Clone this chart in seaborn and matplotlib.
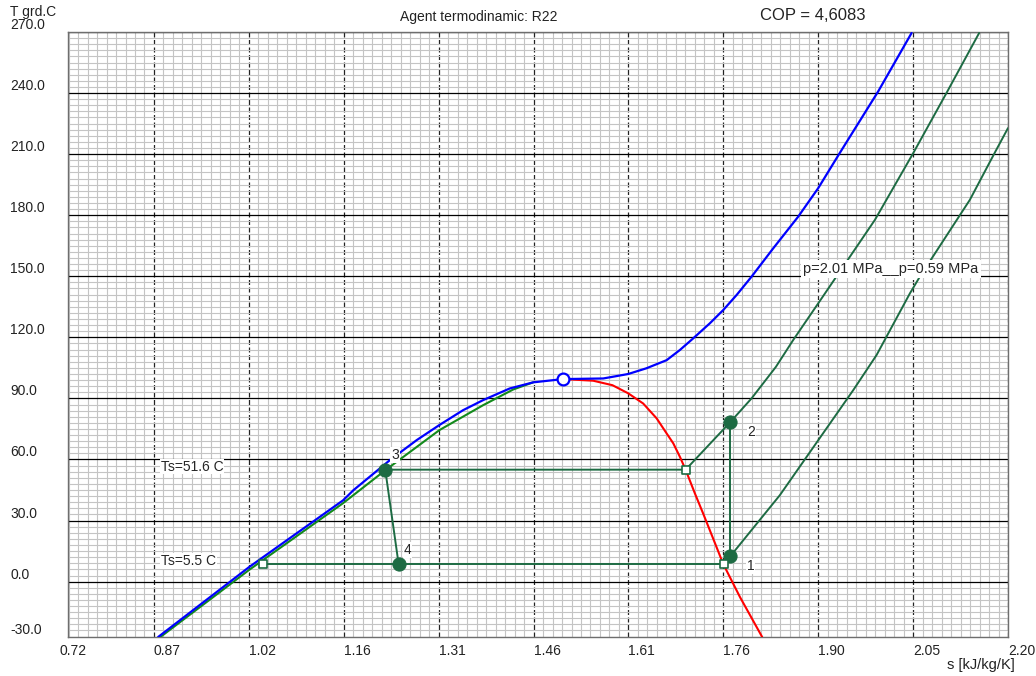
import numpy as np
import pandas as pd
import matplotlib
matplotlib.use("Agg")
import matplotlib.pyplot as plt
import seaborn as sns

# saturated liquid line (blue, left branch) s [kJ/kg/K], T [C]
liq_s = [0.8745, 1.0166, 1.1632, 1.179, 1.236, 1.2777, 1.313, 1.350, 1.3816, 1.423, 1.4595, 1.5063]
liq_T = [-27.2, 7.2, 40.0, 44.9, 59.7, 69.5, 76.9, 84.2, 89.2, 94.9, 97.9, 99.5]

# green line just under the liquid line
grn_s = [0.878, 1.0166, 1.1632, 1.2287, 1.257, 1.313, 1.3815, 1.4284, 1.4595]
grn_T = [-27.2, 5.8, 38.6, 54.7, 61.3, 74.4, 86.7, 94.4, 97.9]

# critical isobar (blue, right branch)
crit_s = [1.5063, 1.5687, 1.6077, 1.636, 1.6676, 1.6883, 1.709, 1.735, 1.7558,
          1.7767, 1.800, 1.834, 1.8728, 1.904, 1.9367, 1.9975, 2.0496]
crit_T = [99.5, 99.8, 102.0, 104.8, 108.8, 113.8, 119.5, 126.9, 133.4,
          140.8, 149.8, 163.8, 179.3, 193.3, 210.1, 240.8, 269.5]

# saturated vapour line (red)
vap_s = [1.5063, 1.553, 1.583, 1.6077, 1.631, 1.652, 1.6676, 1.678, 1.6883, 1.697,
         1.7117, 1.7246, 1.7402, 1.7558, 1.782, 1.8166]
vap_T = [99.5, 98.7, 96.5, 92.5, 87.5, 80.2, 72.8, 67.9, 61.3, 55.1,
         43.3, 33.4, 21.1, 8.7, -7.6, -27.2]

# isobars p=2.01 MPa and p=0.59 MPa
hp_s = [1.6972, 1.7667, 1.800, 1.838, 1.865, 1.904, 1.9534, 1.9924, 2.052, 2.104, 2.155]
hp_T = [55.0, 78.3, 90.0, 105.5, 118.7, 136.7, 159.6, 177.7, 210.4, 240.0, 269.5]
lp_s = [1.7564, 1.7667, 1.844, 1.9587, 1.995, 2.047, 2.0625, 2.1406, 2.179, 2.2]
lp_T = [8.5, 12.4, 42.4, 94.1, 111.3, 141.6, 149.8, 187.6, 210.5, 222.8]

# cycle states 1..4 and saturation points
pt_labels = ["1", "2", "3", "4"]
pt_s = [1.7667, 1.7667, 1.2287, 1.2496]
pt_T = [12.4, 78.3, 55.0, 8.5]
sat_s = [1.0375, 1.7564, 1.6972]
sat_T = [8.5, 8.5, 55.0]
crit_pt = (1.5063, 99.5)

x_ticks = [0.72, 0.87, 1.02, 1.16, 1.31, 1.46, 1.61, 1.76, 1.90, 2.05, 2.20]
y_ticks = [-30, 0, 30, 60, 90, 120, 150, 180, 210, 240, 270]

sns.set_theme(style="white")
plt.rcParams["font.family"] = ["Liberation Sans", "DejaVu Sans"]

fig = plt.figure(figsize=(10.36, 6.76), dpi=100)
ax = fig.add_axes([68 / 1036, 39 / 676, 940 / 1036, 605 / 676])

x0, dx = 0.72, 0.148
xlim = (0.7339, 2.20)
ylim = (-27.2, 270)
ax.set_xticks([x0 + dx * k for k in range(11)])
ax.set_xticks([x0 + dx / 10 * k for k in range(101)], minor=True)
ax.set_yticks(y_ticks)
ax.set_yticks(np.arange(-30, 271, 3), minor=True)
ax.tick_params(which="both", length=0, labelbottom=False, labelleft=False)
ax.grid(which="minor", color="#c4c4c4", lw=0.8)
ax.xaxis.grid(which="major", color="#222222", lw=0.9, ls=(0, (4, 2)))
ax.yaxis.grid(which="major", color="black", lw=0.9, ls="-")
ax.set_axisbelow(True)
for sp in ax.spines.values():
    sp.set_color("#6e6e6e")
    sp.set_linewidth(1.0)

green = "#1d6b43"
lgreen = "#138a1c"

def curve(xs, ys, color, lw):
    df = pd.DataFrame({"s": xs, "T": ys})
    sns.lineplot(data=df, x="s", y="T", color=color, lw=lw, sort=False,
                 estimator=None, ax=ax, zorder=3)

curve(grn_s, grn_T, lgreen, 1.5)
curve(liq_s, liq_T, "blue", 1.6)
curve(vap_s, vap_T, "red", 1.5)
curve(crit_s, crit_T, "blue", 1.6)
curve(hp_s, hp_T, green, 1.4)
curve(lp_s, lp_T, green, 1.4)

# cycle lines
curve([sat_s[0], sat_s[1]], [sat_T[0], sat_T[1]], green, 1.4)
curve([pt_s[0], pt_s[1]], [pt_T[0], pt_T[1]], green, 1.4)
curve([sat_s[2], pt_s[2], pt_s[3]], [sat_T[2], pt_T[2], pt_T[3]], green, 1.4)

sns.scatterplot(x=pt_s, y=pt_T, color=green, s=90, edgecolor=green, ax=ax, zorder=5)
sns.scatterplot(x=sat_s, y=sat_T, marker="s", s=34, color="white",
                edgecolor=green, linewidth=1.2, ax=ax, zorder=5)
ax.plot(*crit_pt, "o", ms=8.5, mfc="white", mec="blue", mew=1.6, zorder=6)
ax.set_xlabel("")
ax.set_ylabel("")
ax.set_xlim(*xlim)
ax.set_ylim(*ylim)

box = dict(facecolor="white", edgecolor="none", pad=0.6)
lab_pos = [(1.7985, 7.5), (1.8001, 73.6), (1.2438, 62.1), (1.263, 15.7)]
for t, (sx, ty) in zip(pt_labels, lab_pos):
    ax.text(sx, ty, t, fontsize=10, ha="center", va="center", bbox=box, zorder=7)
ax.text(0.8789, 56.5, "Ts=51.6 C", fontsize=10, ha="left", va="center", bbox=box, zorder=7)
ax.text(0.8789, 10.0, "Ts=5.5 C", fontsize=10, ha="left", va="center", bbox=box, zorder=7)
ax.text(2.0173, 153.6, "p=2.01 MPa__p=0.59 MPa", fontsize=10.5, ha="center", va="center",
        bbox=dict(facecolor="white", edgecolor="none", pad=1.5), zorder=7)

# tick labels
for v, lab in zip([x0 + dx * k for k in range(11)], x_ticks):
    ax.text(v, -7 / 605, f"{lab:.2f}", transform=ax.get_xaxis_transform(),
            ha="left", va="top", fontsize=10, color="#222222", clip_on=False)
for v in y_ticks:
    ax.text(-58 / 940, max(v, ylim[0]), f"{v:.1f}", transform=ax.get_yaxis_transform(),
            ha="left", va="bottom", fontsize=10, color="#222222", clip_on=False)

fig.text(10 / 1036, 1 - 12 / 676, "T grd.C", fontsize=10, ha="left", va="center", color="#222222")
fig.text(1015 / 1036, 1 - 665 / 676, "s [kJ/kg/K]", fontsize=10.5, ha="right", va="center", color="#222222")
fig.text(479 / 1036, 1 - 17 / 676, "Agent termodinamic: R22", fontsize=10, ha="center", va="center", color="#222222")
fig.text(813 / 1036, 1 - 15 / 676, "COP = 4,6083", fontsize=12, ha="center", va="center", color="#222222")

fig.savefig("out.png", dpi=100)
